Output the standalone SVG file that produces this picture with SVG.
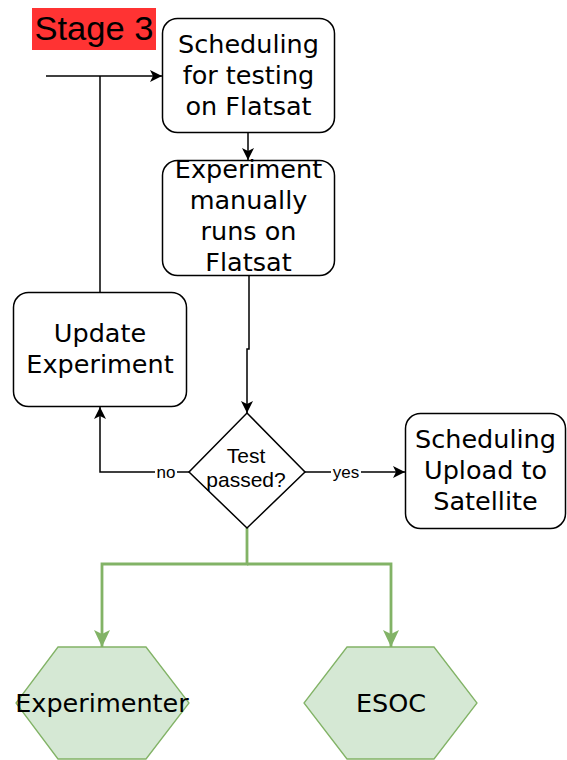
<svg xmlns="http://www.w3.org/2000/svg" width="567" height="760" viewBox="0 0 567 760">
  <style>
    .box { fill: #ffffff; stroke: #000000; stroke-width: 1.5; }
    .hex { fill: #d5e8d4; stroke: #82b366; stroke-width: 1.3; }
    .t { font-family: "DejaVu Sans", Verdana, sans-serif; font-size: 25.5px; fill: #000000; text-anchor: middle; }
    .a { font-family: "Liberation Sans", Arial, sans-serif; fill: #000000; text-anchor: middle; }
    .edge { fill: none; stroke: #000000; stroke-width: 1.5; }
    .gedge { fill: none; stroke: #82b366; stroke-width: 2.8; }
  </style>
  <defs>
    <marker id="arr" markerUnits="userSpaceOnUse" markerWidth="13" markerHeight="12" refX="12" refY="6" orient="auto">
      <path d="M0,0 L12,6 L0,12 L3,6 Z" fill="#000000"/>
    </marker>
    <marker id="garr" markerUnits="userSpaceOnUse" markerWidth="18" markerHeight="16" refX="17" refY="8" orient="auto">
      <path d="M0,0 L17,8 L0,16 L4,8 Z" fill="#82b366"/>
    </marker>
  </defs>

  <g id="stage-label">
    <rect x="32" y="8" width="124" height="42" fill="#ff3333"/>
    <text class="a" x="94" y="40" font-size="33" textLength="119" lengthAdjust="spacingAndGlyphs">Stage 3</text>
  </g>

  <g id="connectors">
    <path class="edge" d="M46 76 H162" marker-end="url(#arr)"/>
    <path class="edge" d="M100 292 V76"/>
    <path class="edge" d="M248 133 V160" marker-end="url(#arr)"/>
    <path class="edge" d="M249 276 V349 H247 V413" marker-end="url(#arr)"/>
    <path class="edge" d="M189 472 H100 V407" marker-end="url(#arr)"/>
    <path class="edge" d="M305 472 H405" marker-end="url(#arr)"/>
    <path class="gedge" d="M247 528 V564 H102 V647" marker-end="url(#garr)"/>
    <path class="gedge" d="M247 564 H391 V647" marker-end="url(#garr)"/>
    <rect x="155" y="463" width="22" height="17" fill="#ffffff"/>
    <text class="a" x="166" y="477.5" font-size="17">no</text>
    <rect x="331" y="463" width="30" height="17" fill="#ffffff"/>
    <text class="a" x="346" y="477.5" font-size="17">yes</text>
  </g>

  <g id="scheduling-testing">
    <rect class="box" x="162.5" y="18.5" width="172" height="114" rx="15"/>
    <text class="t" x="248.5" y="53">Scheduling</text>
    <text class="t" x="248.5" y="84">for testing</text>
    <text class="t" x="248.5" y="115">on Flatsat</text>
  </g>

  <g id="experiment-runs">
    <rect class="box" x="162.5" y="160.5" width="172" height="115" rx="15"/>
    <text class="t" x="248.5" y="178">Experiment</text>
    <text class="t" x="248.5" y="209">manually</text>
    <text class="t" x="248.5" y="240">runs on</text>
    <text class="t" x="248.5" y="271">Flatsat</text>
  </g>

  <g id="update-experiment">
    <rect class="box" x="13.5" y="292.5" width="173" height="114" rx="15"/>
    <text class="t" x="100" y="342">Update</text>
    <text class="t" x="100" y="373">Experiment</text>
  </g>

  <g id="test-passed">
    <path class="box" d="M247 413 L305 472 L247 528 L189 472 Z"/>
    <text class="a" x="246" y="463" font-size="21">Test</text>
    <text class="a" x="246" y="487" font-size="21">passed?</text>
  </g>

  <g id="scheduling-upload">
    <rect class="box" x="405.5" y="413.5" width="160" height="115" rx="15"/>
    <text class="t" x="485.5" y="448">Scheduling</text>
    <text class="t" x="485.5" y="479">Upload to</text>
    <text class="t" x="485.5" y="510">Satellite</text>
  </g>

  <g id="experimenter">
    <path class="hex" d="M58 647 H146 L189 703 L146 759 H58 L16 703 Z"/>
    <text class="t" x="102" y="712">Experimenter</text>
  </g>

  <g id="esoc">
    <path class="hex" d="M347 647 H434 L477 703 L434 759 H347 L304 703 Z"/>
    <text class="t" x="391" y="712">ESOC</text>
  </g>
</svg>
